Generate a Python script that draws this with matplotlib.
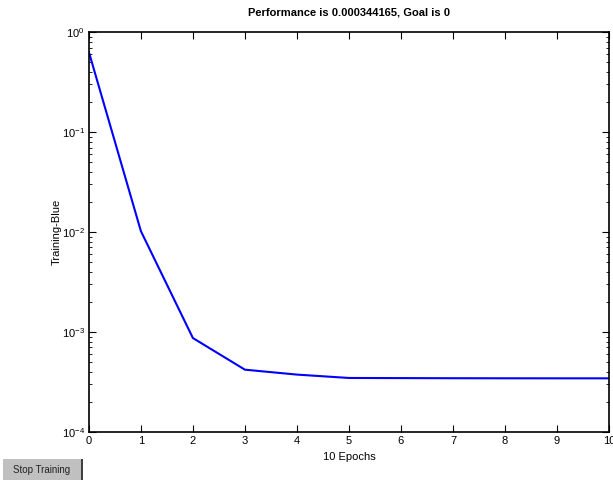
import matplotlib.pyplot as plt
from matplotlib.patches import Rectangle

plt.rcParams['font.family'] = ['Liberation Sans', 'DejaVu Sans']

# training record
epochs = [0, 1, 2, 3, 4, 5, 6, 7, 8, 9, 10]
perf = [0.63, 0.0102, 0.00087, 0.00042, 0.000375, 0.000347,
        0.000346, 0.000345, 0.0003445, 0.0003442, 0.000344165]
goal = 0

fig = plt.figure(figsize=(6.13, 4.8), dpi=100)
ax = fig.add_axes([0.145, 0.1, 0.8485, 0.8333])

ax.semilogy(epochs, perf, color='#0000ff', linewidth=1.5)
ax.set_xlim(0, 10)
ax.set_ylim(1e-4, 1)
ax.set_xticks(range(0, 11))

ax.tick_params(which='both', direction='in', top=True, right=True, labelsize=8, pad=3)
ax.tick_params(which='major', length=5, width=0.8)
ax.tick_params(which='minor', length=2.5, width=0.6)
for s in ax.spines.values():
    s.set_linewidth(1.2)

ax.set_title('Performance is %g, Goal is %g' % (perf[-1], goal),
             fontsize=8, fontweight='bold', pad=12)
ax.set_xlabel('10 Epochs', fontsize=8, labelpad=4)
ax.set_ylabel('Training-Blue', fontsize=8, labelpad=0)

# the little button in the lower left corner
fig.patches.append(Rectangle((3 / 613, 0), 79 / 613, 21 / 480, transform=fig.transFigure,
                             facecolor='#c0c0c0', edgecolor='none'))
fig.patches.append(Rectangle((81 / 613, 0), 1.5 / 613, 21 / 480, transform=fig.transFigure,
                             facecolor='#404040', edgecolor='none'))
fig.text(42 / 613, 10 / 480, 'Stop Training', fontsize=7, ha='center', va='center',
         color='#222222')

fig.savefig('out.png', dpi=100)
